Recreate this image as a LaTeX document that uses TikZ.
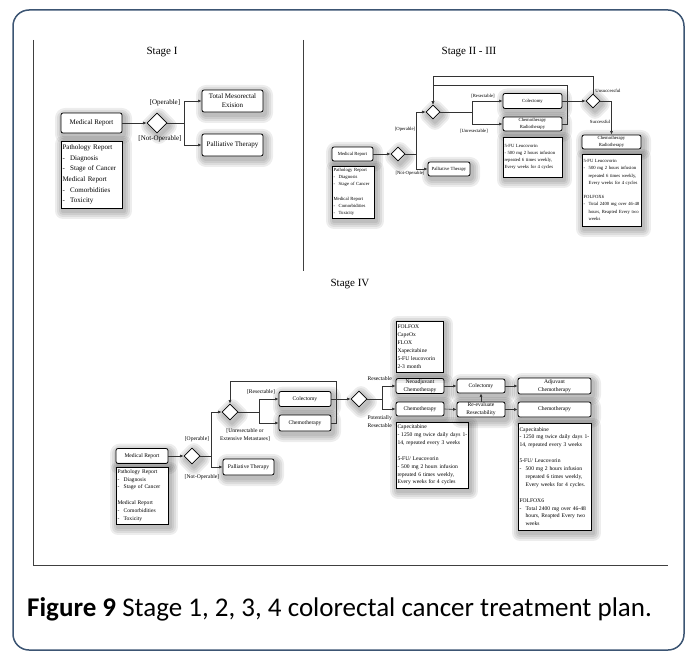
\documentclass[tikz,border=0pt]{standalone}
\usepackage{fontspec}
\setmainfont{Liberation Serif}
\newfontfamily\capfont{Carlito}
\newfontfamily\cnd{Liberation Serif}
\usetikzlibrary{shapes.geometric,arrows.meta}
\definecolor{framecol}{RGB}{60,85,115}
\newcommand{\bul}[1]{\mbox{\makebox[1.1em][l]{-}#1}}
\newcommand{\cnt}[1]{\mbox{\hspace*{1.1em}#1}}
\begin{document}
\begin{tikzpicture}[x=1pt,y=-1pt,
  every node/.style={inner sep=1pt},
  shl/.style={preaction={draw=black, line width=#1, line join=round, opacity=0.07, transform canvas={xshift=2pt,yshift=-3pt}}},
  sh/.style={shl=16pt, shl=12pt, shl=8pt, shl=4pt},
  rbox/.style={sh, draw=black, line width=0.8pt, fill=white, rounded corners=2pt, align=center},
  tbox/.style={sh, draw=black, line width=0.8pt, fill=white, align=left, inner xsep=1.5pt, inner ysep=1pt},
  dia/.style={sh, diamond, draw=black, line width=0.8pt, fill=white, inner sep=0pt, minimum width=#1, minimum height=#1},
  conn/.style={draw=black!80, line width=0.6pt},
  arr/.style={conn, -{Latex[length=3.5pt,width=3pt]}},
  f1/.style={font=\cnd\fontsize{7}{9}\selectfont},
  f2/.style={font=\cnd\fontsize{4.7}{7.2}\selectfont},
  f4/.style={font=\cnd\fontsize{5.6}{7.9}\selectfont},
  stg/.style={font=\fontsize{11}{13}\selectfont}
]
\useasboundingbox (0,0) rectangle (690,655);
% outer frame
\draw[framecol, line width=1.5pt, rounded corners=16pt] (13,10) rectangle (684,650);
% figure borders
\draw[black!75, line width=0.6pt] (33,40) -- (33,565) -- (668,565);
\draw[black!75, line width=0.6pt] (303,40) -- (303,271);

% ================= Stage I =================
\node[stg] (s1) at (162,52) {Stage I};
\node[rbox, f1, minimum width=61pt, minimum height=20pt] (mr1) at (91.5,123) {Medical Report};
\node[tbox, f1, text width=58pt, minimum height=67pt, font=\cnd\fontsize{7}{10.6}\selectfont] (path1) at (91.5,174.5) {Pathology Report\\ \bul{Diagnosis}\\ \bul{Stage of Cancer}\\ Medical Report\\ \bul{Comorbidities}\\ \bul{Toxicity}};
\node[dia=20pt] (d1) at (157,123) {};
\node[rbox, f1, minimum width=61pt, minimum height=22pt] (tme) at (232.5,101) {Total Mesorectal\\ Exision};
\node[rbox, f1, minimum width=61pt, minimum height=22pt] (pal1) at (232.5,145) {Palliative Therapy};
\coordinate (j1) at (184,123);
\draw[arr] (mr1.east) -- (d1.west);
\draw[conn] (d1.east) -- (j1);
\draw[arr] (j1) |- (tme.west);
\draw[arr] (j1) |- (pal1.west);
\node[f1] (l1a) at (165,103) {[Operable]};
\node[f1] (l1b) at (160,139) {[Not-Operable]};

% ================= Stage II - III =================
\node[stg] (s2) at (469,52) {Stage II - III};
\node[rbox, f2, minimum width=41pt, minimum height=14pt] (mr2) at (352.5,154) {Medical Report};
\node[tbox, f2, text width=39pt, minimum height=52pt] (path2) at (353,192) {Pathology Report\\ \bul{Diagnosis}\\ \bul{Stage of Cancer}\\ \mbox{}\\ Medical Report\\ \bul{Comorbidities}\\ \bul{Toxicity}};
\node[dia=14pt] (d2a) at (398,154) {};
\node[rbox, f2, minimum width=42pt, minimum height=14pt] (pal2) at (449,169) {Palliative Therapy};
\node[dia=14pt] (d2b) at (433,112) {};
\node[rbox, f2, minimum width=59pt, minimum height=15pt] (col2) at (532.5,101) {Colectomy};
\node[rbox, f2, minimum width=59pt, minimum height=14pt] (cr2) at (532.5,124) {Chemotherapy\\ Radiotherapy};
\node[tbox, f2, text width=56pt, minimum height=40pt] (txt2) at (532.5,157) {5-FU Leucovorin\\ \mbox{- 500 mg 2 hours infusion}\\ \mbox{repeated 6 times weekly,}\\ \mbox{Every weeks for 4 cycles}};
\node[dia=14pt] (d2c) at (593,101) {};
\node[rbox, f2, minimum width=59pt, minimum height=14pt] (cr2b) at (611.5,142) {Chemotherapy\\ Radiotherapy};
\node[tbox, f2, text width=56pt, minimum height=72pt] (txt2b) at (611.5,190) {5-FU Leucovorin\\ \bul{500 mg 2 hours infusion}\\ \cnt{repeated 6 times weekly,}\\ \cnt{Every weeks for 4 cycles}\\ \mbox{}\\ FOLFOX6\\ \bul{Total 2400 mg over 46-48}\\ \cnt{hours, Reapted Every two}\\ \cnt{weeks}};
\coordinate (j2) at (416,154);
\coordinate (j3) at (472,112);
\coordinate (t1) at (593,76);
\coordinate (t2) at (567,85);
\draw[arr] (mr2.east) -- (d2a.west);
\draw[conn] (d2a.east) -- (j2);
\draw[arr] (j2) |- (d2b.west);
\draw[arr] (j2) |- (pal2.west);
\draw[conn] (d2b.east) -- (j3);
\draw[arr] (j3) |- (col2.west);
\draw[arr] (j3) |- (cr2.west);
\draw[arr] (col2.east) -- (d2c.west);
\draw[arr] (d2c.north) -- (t1) -| (d2b.north);
\draw[arr] (cr2.east) -| (t2) -| (d2b.north);
\draw[arr] (d2c.east) -| (cr2b.north);
\node[f2] (l2a) at (405,129) {[Operable]};
\node[f2] (l2b) at (410,173) {[Not-Operable]};
\node[f2] (l2c) at (483,96) {[Resectable]};
\node[f2] (l2d) at (474,131) {[Unresectable]};
\node[f2] (l2e) at (608,91) {Unsuccessful};
\node[f2] (l2f) at (600,122) {Successful};

% ================= Stage IV =================
\node[stg] (s4) at (350,284) {Stage IV};
\node[rbox, f4, minimum width=52pt, minimum height=15pt] (mr4) at (142,456) {Medical Report};
\node[tbox, f4, text width=49pt, minimum height=57pt] (path4) at (142,495.5) {Pathology Report\\ \bul{Diagnosis}\\ \bul{Stage of Cancer}\\ \mbox{}\\ Medical Report\\ \bul{Comorbidities}\\ \bul{Toxicity}};
\node[dia=16pt] (d4a) at (192,456) {};
\node[rbox, f4, minimum width=51pt, minimum height=16pt] (pal4) at (248.5,467) {Palliative Therapy};
\node[dia=16pt] (d4b) at (230,412) {};
\node[rbox, f4, minimum width=52pt, minimum height=15pt] (col4) at (305,399) {Colectomy};
\node[rbox, f4, minimum width=52pt, minimum height=16pt] (ch4) at (305,423) {Chemotherapy};
\node[dia=16pt] (d4c) at (359,399) {};
\node[rbox, f4, minimum width=48pt, minimum height=14pt] (neo) at (420,386) {Neoadjuvant\\ Chemotherapy};
\node[rbox, f4, minimum width=48pt, minimum height=14pt] (ch4b) at (420,409) {Chemotherapy};
\node[tbox, f4, text width=44pt, minimum height=51pt] (folfox) at (419.5,346.5) {FOLFOX\\ CapeOx\\ FLOX\\ Xapecitabine\\ 5-FU leucovorin\\ 2-3 month};
\node[tbox, f4, text width=69pt, minimum height=66pt] (txt4a) at (432,455) {Capecitabine\\ \mbox{- 1250 mg twice daily days 1-}\\ \mbox{14, repeated every 3 weeks}\\ \mbox{}\\ 5-FU/ Leucovorin\\ \mbox{- 500 mg 2 hours infusion}\\ \mbox{repeated 6 times weekly,}\\ \mbox{Every weeks for 4 cycles}};
\node[rbox, f4, minimum width=48pt, minimum height=14pt] (col4b) at (481,386) {Colectomy};
\node[rbox, f4, minimum width=48pt, minimum height=15pt] (reev) at (481,409.5) {Re-evaluate\\ Resectability};
\node[rbox, f4, minimum width=73pt, minimum height=16pt] (adj) at (554.5,386) {Adjuvant\\ Chemotherapy};
\node[rbox, f4, minimum width=73pt, minimum height=15pt] (ch4c) at (554.5,409.5) {Chemotherapy};
\node[tbox, f4, text width=70pt, minimum height=107pt] (txt4b) at (554.5,476.5) {Capecitabine\\ \mbox{- 1250 mg twice daily days 1-}\\ \mbox{14, repeated every 3 weeks}\\ \mbox{}\\ 5-FU/ Leucovorin\\ \bul{500 mg 2 hours infusion}\\ \cnt{repeated 6 times weekly,}\\ \cnt{Every weeks for 4 cycles.}\\ \mbox{}\\ FOLFOX6\\ \bul{Total 2400 mg over 46-48}\\ \cnt{hours, Reapted Every two}\\ \cnt{weeks}};
\coordinate (j4) at (211,456);
\coordinate (j5) at (259,412);
\coordinate (t4) at (336,381);
\coordinate (j6) at (382,399);
\draw[arr] (mr4.east) -- (d4a.west);
\draw[conn] (d4a.east) -- (j4);
\draw[arr] (j4) |- (d4b.west);
\draw[arr] (j4) |- (pal4.west);
\draw[conn] (d4b.east) -- (j5);
\draw[arr] (j5) |- (col4.west);
\draw[arr] (j5) |- (ch4.west);
\draw[arr] (ch4.east) -| (t4) -| (d4b.north);
\draw[arr] (col4.east) -- (d4c.west);
\draw[conn] (d4c.east) -- (j6);
\draw[arr] (j6) |- (neo.west);
\draw[arr] (j6) |- (ch4b.west);
\draw[arr] (neo.east) -- (col4b.west);
\draw[arr] (ch4b.east) -- (reev.west);
\draw[arr] (reev.north) -- (col4b.south);
\draw[arr] (col4b.east) -- (adj.west);
\draw[arr] (reev.east) -- (ch4c.west);
\node[f4] (l4a) at (197,439) {[Operable]};
\node[f4] (l4b) at (202,477) {[Not-Operable]};
\node[f4] (l4c) at (261,392) {[Resectable]};
\node[f4, align=center] (l4d) at (245,435) {[Unresectable or\\ Extensive Metastases]};
\node[f4, anchor=east] (l4e) at (393,379) {Resectable};
\node[f4, anchor=east, align=right] (l4f) at (393,422) {Potentially\\ Resectable};

% caption
\node[anchor=west, font=\capfont\fontsize{27}{31}\selectfont] (cap) at (26,609) {\textbf{Figure 9} Stage 1, 2, 3, 4 colorectal cancer treatment plan.};
\end{tikzpicture}
\end{document}
